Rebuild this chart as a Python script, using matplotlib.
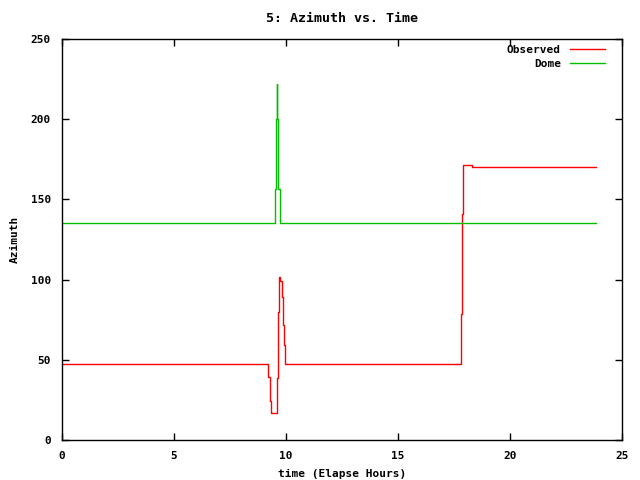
import matplotlib
matplotlib.use("Agg")
import matplotlib.pyplot as plt

# observed azimuth (step data, value holds until next time)
obs_t = [0, 9.21, 9.30, 9.32, 9.61, 9.66, 9.70, 9.75, 9.81, 9.85, 9.91, 9.97,
         17.83, 17.87, 17.92, 18.32, 23.84]
obs_v = [47.4, 39.5, 24.3, 17.0, 38.6, 80.0, 101.4, 99.3, 89.3, 71.7, 59.0, 47.2,
         78.4, 140.7, 171.4, 170.2, 170.2]

# dome azimuth
dome_t = [0, 9.52, 9.57, 9.61, 9.62, 9.66, 9.72, 23.84]
dome_v = [135.0, 156.5, 200.0, 222.0, 200.0, 156.5, 135.0, 135.0]

plt.rcParams['font.family'] = 'DejaVu Sans Mono'
plt.rcParams['font.weight'] = 'bold'
plt.rcParams['axes.labelweight'] = 'bold'
plt.rcParams['axes.titleweight'] = 'bold'
plt.rcParams['font.size'] = 8

fig = plt.figure(figsize=(6.4, 4.8), dpi=100)
ax = fig.add_axes([62/640, 40/480, 560/640, 401/480])

ax.plot(obs_t, obs_v, color='#ff0000', lw=1.0, drawstyle='steps-post', label='Observed')
ax.plot(dome_t, dome_v, color='#00c000', lw=1.0, drawstyle='steps-post', label='Dome')

ax.set_xlim(0, 25)
ax.set_ylim(0, 250)
ax.set_xticks([0, 5, 10, 15, 20, 25])
ax.set_yticks([0, 50, 100, 150, 200, 250])
ax.tick_params(direction='in', top=True, right=True, length=5, width=1, pad=8)
for s in ax.spines.values():
    s.set_linewidth(1)

ax.set_xlabel('time (Elapse Hours)', labelpad=6)
ax.set_ylabel('Azimuth', labelpad=8)
ax.set_title('5: Azimuth vs. Time', pad=12)

leg = ax.legend(loc='upper right', frameon=False, markerfirst=False,
                handlelength=3.2, handletextpad=0.8, borderaxespad=0.1,
                labelspacing=0.4, bbox_to_anchor=(0.98, 1.0))

fig.savefig('out.png', dpi=100)
